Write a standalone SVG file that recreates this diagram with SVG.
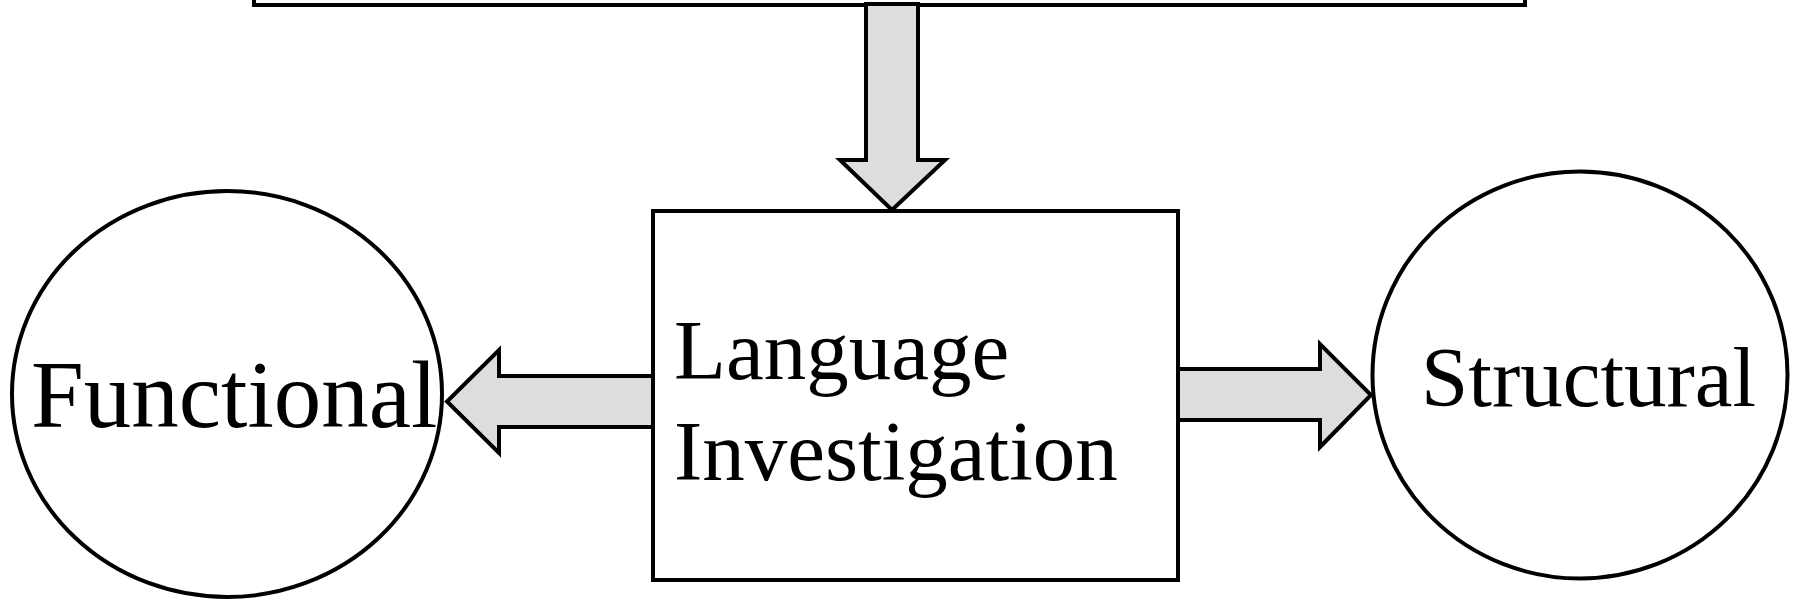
<svg xmlns="http://www.w3.org/2000/svg" width="1793" height="601" viewBox="0 0 1793 601">
  <style>
    .shape { fill: #ffffff; stroke: #000000; stroke-width: 4; }
    .arrow { fill: #dddddd; stroke: #000000; stroke-width: 4; stroke-linejoin: miter; }
    .label { font-family: "Liberation Serif", "Times New Roman", serif; fill: #000000; }
  </style>
  <rect width="1793" height="601" fill="#ffffff"/>

  <!-- top box, only its lower part is inside the frame -->
  <g id="node-top">
    <rect class="shape" x="254" y="-100" width="1271" height="105"/>
  </g>

  <!-- block arrows -->
  <g id="connectors">
    <polygon class="arrow" points="866,4 918,4 918,160 945,160 892,210 840,160 866,160"/>
    <polygon class="arrow" points="653,376 499,376 499,350 447,401.5 499,453 499,427 653,427"/>
    <polygon class="arrow" points="1178,369 1320,369 1320,344 1371,395 1320,447 1320,420 1178,420"/>
  </g>

  <g id="node-investigation">
    <rect class="shape" x="653" y="211" width="525" height="369"/>
    <text class="label" font-size="85" x="674" y="379">Language</text>
    <text class="label" font-size="85" x="674" y="480">Investigation</text>
  </g>

  <g id="node-functional">
    <ellipse class="shape" cx="227" cy="394" rx="215" ry="203" style="fill:none"/>
    <text class="label" font-size="95" x="31" y="427">Functional</text>
  </g>

  <g id="node-structural">
    <ellipse class="shape" cx="1580" cy="375" rx="207.5" ry="203.5"/>
    <text class="label" font-size="85" x="1421" y="406">Structural</text>
  </g>
</svg>
